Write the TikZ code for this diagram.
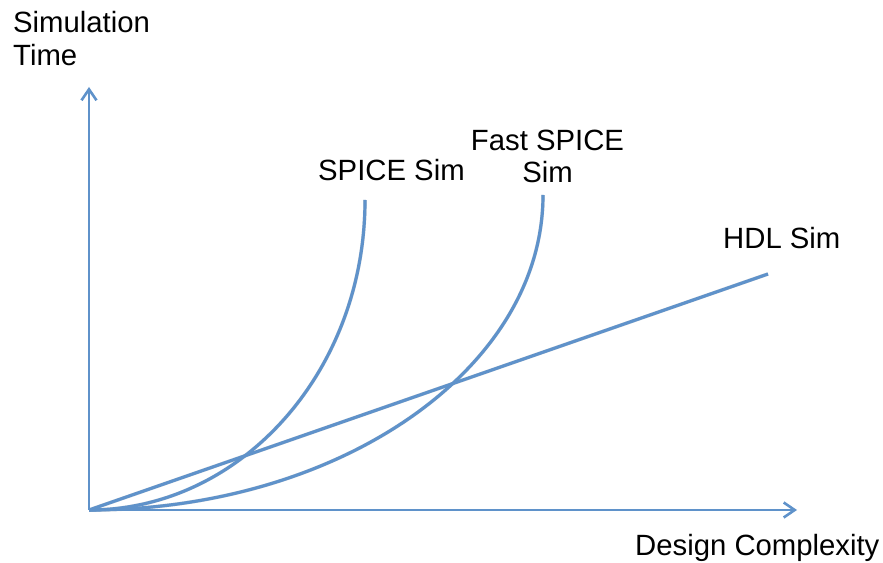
\documentclass[tikz,border=0pt]{standalone}
\usepackage{fontspec}
\setmainfont{Liberation Sans}
\usetikzlibrary{arrows.meta}
\definecolor{plotblue}{RGB}{95,146,202}
\tikzset{
  axis/.style={draw=plotblue, line width=2pt,
    -{Straight Barb[length=11pt,width=15pt,line width=2.6pt]}},
  curve/.style={draw=plotblue, line width=3.2pt},
  curveshadow/.style={draw=black, opacity=0.13, line width=3.6pt},
  lbl/.style={inner sep=0pt, font=\fontsize{29.3}{35}\selectfont, text=black},
}
\begin{document}
\begin{tikzpicture}[x=1pt, y=1pt]
\useasboundingbox (0,0) rectangle (883,562);

% origin and curve end points
\coordinate (O) at (89,52);
\coordinate (ytip) at (89,475);
\coordinate (xtip) at (797,52);
\coordinate (hdlend) at (768,288);

% soft shadows under the curves
\begin{scope}[shift={(1.5,-2)}]
  \draw[curveshadow] (O) arc[start angle=270, end angle=360, x radius=276, y radius=310];
  \draw[curveshadow] (O) arc[start angle=270, end angle=360, x radius=454, y radius=315];
  \draw[curveshadow] (O) -- (hdlend);
\end{scope}

% axes
\draw[axis] (O) -- (ytip);
\draw[axis] (O) -- (xtip);

% SPICE simulation: quarter ellipse
\draw[curve] (O) arc[start angle=270, end angle=360, x radius=276, y radius=310] coordinate (spiceend);
% Fast SPICE simulation: wider quarter ellipse
\draw[curve] (O) arc[start angle=270, end angle=360, x radius=454, y radius=315] coordinate (fastend);
% HDL simulation: straight line
\draw[curve] (O) -- (hdlend);

% labels
\node[lbl, anchor=base west] (ylab1) at (13,529) {Simulation};
\node[lbl, anchor=base west] (ylab2) at (13,496) {Time};
\node[lbl, anchor=base west] (spicelab) at (318,381) {SPICE Sim};
\node[lbl, anchor=base] (fastlab1) at (547.5,411) {Fast SPICE};
\node[lbl, anchor=base] (fastlab2) at (547.5,379) {Sim};
\node[lbl, anchor=base west] (hdllab) at (723,313) {HDL Sim};
\node[lbl, anchor=base west] (xlab) at (635,7) {Design Complexity};
\end{tikzpicture}
\end{document}
